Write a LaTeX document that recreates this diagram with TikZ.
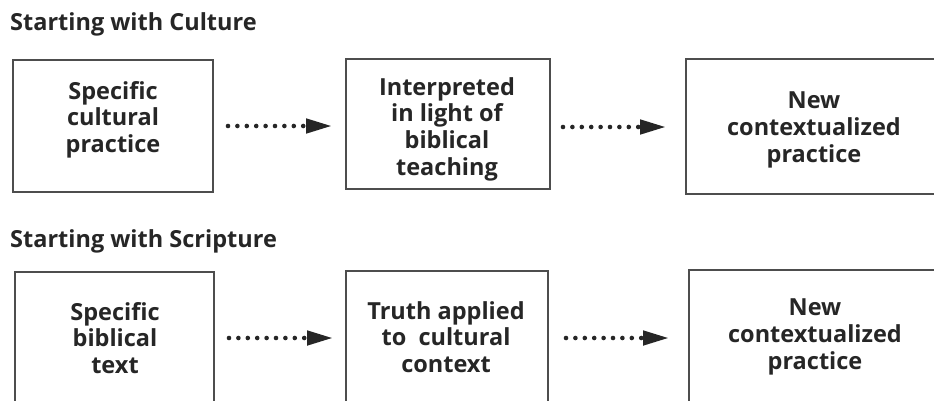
\documentclass[tikz,border=0pt]{standalone}
\usepackage{fontspec}
\setmainfont{Open Sans}
\usetikzlibrary{arrows.meta,calc}
\definecolor{ink}{HTML}{262626}
\definecolor{frame}{HTML}{4D4D4D}
\begin{document}
\begin{tikzpicture}[x=1pt,y=-1pt,
  box/.style={draw=frame,line width=2pt,inner sep=0pt,anchor=north west},
  txt/.style={text=ink,font=\bfseries\fontsize{23.5}{26.7}\selectfont,align=center,inner sep=0pt,anchor=north},
  ttl/.style={text=ink,font=\bfseries\fontsize{23.5}{26}\selectfont,inner sep=0pt,anchor=base west},
  flow/.style={draw=ink,line width=4.6pt,line cap=round,dash pattern=on 0pt off 9.4pt,
    -{Triangle[length=26pt,width=14pt,line cap=butt]}}
]
\useasboundingbox (0,0) rectangle (934,400);
\clip (0,0) rectangle (934,400);
\fill[white] (0,0) rectangle (934,400);

% titles
\node[ttl] (h1) at (10,30) {Starting with Culture};
\node[ttl] (h2) at (10,247) {Starting with Scripture};

% top row boxes
\node[box,minimum width=200pt,minimum height=132pt] (c1) at (12,59) {};
\node[box,minimum width=204pt,minimum height=130pt] (c2) at (345,58) {};
\node[box,minimum width=270pt,minimum height=135pt] (c3) at (685,58) {};
\node[txt] (ct1) at (113,81) {Specific\\cultural\\practice};
\node[txt] (ct2) at (447,77) {Interpreted\\in light of\\biblical\\teaching};
\node[txt] (ct3) at (814,92) {New\\contextualized\\practice};

% bottom row boxes
\node[box,minimum width=199pt,minimum height=132pt] (s1) at (14,271) {};
\node[box,minimum width=202pt,minimum height=134pt] (s2) at (345,270) {};
\node[box,minimum width=270pt,minimum height=136pt] (s3) at (688,269) {};
\node[txt] (st1) at (115,302) {Specific\\biblical\\text};
\node[txt] (st2) at (446,301) {Truth applied\\to~~cultural\\context};
\node[txt] (st3) at (815,299) {New\\contextualized\\practice};

% connectors
\draw[flow] ([xshift=14pt]c1.east) -- ([xshift=-13pt]c2.west |- c1.east);
\draw[flow] ([xshift=12pt,yshift=-3pt]c2.east) -- ([xshift=-19pt,yshift=-3pt]c3.west |- c2.east);
\draw[flow] ([xshift=14pt]s1.east) -- ([xshift=-12pt]s2.west |- s1.east);
\draw[flow] ([xshift=17pt]s2.east) -- ([xshift=-19pt]s3.west |- s2.east);
\end{tikzpicture}
\end{document}
